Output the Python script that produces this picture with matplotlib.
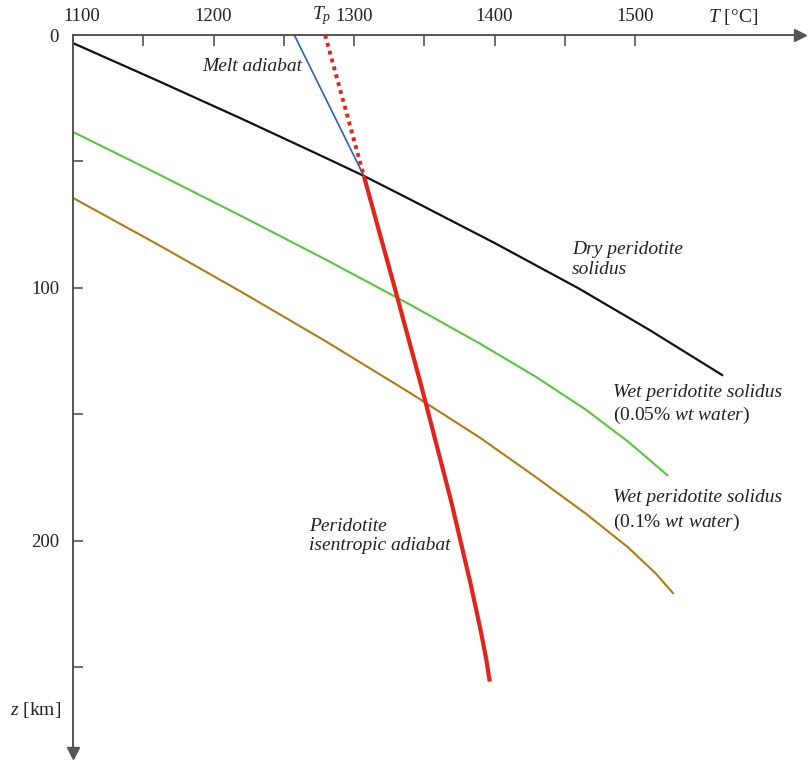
import matplotlib
matplotlib.use("Agg")
import matplotlib.pyplot as plt
from matplotlib.transforms import ScaledTranslation

plt.rcParams.update({
    "font.family":       ["Liberation Serif", "DejaVu Serif"],
    "font.size":         14,
    "mathtext.fontset":  "custom",
    "mathtext.rm":       "Liberation Serif",
    "mathtext.it":       "Liberation Serif:italic",
    "text.color":        "#222222",
})

# ── data (T in °C, z in km) ──────────────────────────────────────────────────
dry_T = [1100, 1160, 1220, 1280, 1307, 1340, 1400, 1460, 1510, 1562]
dry_z = [3.2, 18.0, 33.1, 48.6, 55.7, 65.0, 82.2, 100.2, 116.5, 134.4]

wet005_T = [1100, 1160, 1220, 1280, 1340, 1390, 1430, 1465, 1495, 1523]
wet005_z = [38.3, 54.8, 71.6, 88.8, 106.6, 122.1, 135.3, 148.1, 160.7, 174.0]

wet01_T = [1100, 1160, 1220, 1280, 1340, 1390, 1430, 1465, 1495, 1515, 1527]
wet01_z = [64.4, 82.7, 101.6, 121.1, 141.5, 159.3, 175.0, 189.2, 202.5, 213.0, 220.6]

adiabat_T = [1307, 1329, 1348.5, 1369, 1383, 1390, 1394.2, 1396.6]
adiabat_z = [55.7, 100.0, 140.0, 184.0, 217.0, 235.0, 247.0, 255.6]

tp_T = [1279.4, 1307]
tp_z = [0, 55.7]

melt_T = [1257.5, 1307]
melt_z = [0, 55.7]

x_major = [1100, 1200, 1300, 1400, 1500]
x_minor = [1150, 1250, 1350, 1450]
y_major = [0, 100, 200]
y_minor = [50, 150, 250]

AXIS_C = "#555555"

fig = plt.figure(figsize=(8.08, 7.63), dpi=100, facecolor="white")
ax = fig.add_axes([73 / 808, 10 / 763, 727 / 808, 718 / 763])
ax.set_xlim(1100, 1617.4)
ax.set_ylim(283.8, 0)

for s in ("right", "bottom"):
    ax.spines[s].set_visible(False)
for s in ("top", "left"):
    ax.spines[s].set_color(AXIS_C)
    ax.spines[s].set_linewidth(1.4)

ax.xaxis.set_ticks_position("top")
ax.set_xticks(x_major)
ax.set_xticklabels([str(v) for v in x_major])
ax.set_xticks(x_minor, minor=True)
ax.set_yticks(y_major)
ax.set_yticklabels([str(v) for v in y_major])
ax.set_yticks(y_minor, minor=True)
ax.tick_params(which="both", direction="in", color=AXIS_C, width=1.2,
               labelsize=13.5, labelcolor="#222222")
ax.tick_params(axis="x", which="both", length=8, pad=7)
ax.tick_params(axis="y", which="both", length=7, pad=10)

# first temperature label sits a little to the right of its tick
lbl = ax.xaxis.get_major_ticks()[0].label2
lbl.set_transform(lbl.get_transform() + ScaledTranslation(0.09, 0, fig.dpi_scale_trans))

# axis arrow heads
ax.plot([1], [1], marker=">", ms=8, color=AXIS_C, transform=ax.transAxes, clip_on=False)
ax.plot([0], [0], marker="v", ms=8, color=AXIS_C, transform=ax.transAxes, clip_on=False)

# ── curves ────────────────────────────────────────────────────────────────────
ax.plot(dry_T, dry_z, color="#111111", lw=1.6, solid_joinstyle="round")
ax.plot(wet005_T, wet005_z, color="#55c63c", lw=1.5, solid_joinstyle="round")
ax.plot(wet01_T, wet01_z, color="#b27a12", lw=1.5, solid_joinstyle="round")
ax.plot(melt_T, melt_z, color="#2b5fc4", lw=1.2)
ax.plot(tp_T, tp_z, color="#e4231d", lw=2.8, linestyle=(0, (1, 1.1)))
ax.plot(adiabat_T, adiabat_z, color="#e4231d", lw=3.0, solid_capstyle="butt",
        solid_joinstyle="round")

# ── labels ────────────────────────────────────────────────────────────────────
ax.text(1263, 12.6, "Melt adiabat", style="italic", ha="right", va="center")
ax.text(1455, 88.7, "Dry peridotite\nsolidus", style="italic",
        ha="left", va="center", linespacing=1.2)

ax.text(1484, 141.5, "Wet peridotite solidus", style="italic",
        ha="left", va="center")
ax.text(1484, 150.3, r"(0.05% $\it{wt\ water}$)", ha="left", va="center")
ax.text(1484, 183.0, "Wet peridotite solidus", style="italic",
        ha="left", va="center")
ax.text(1484, 192.8, r"(0.1% $\it{wt\ water}$)", ha="left", va="center")

ax.text(1268, 198, "Peridotite\nisentropic adiabat", style="italic",
        ha="left", va="center", linespacing=1.2)

ax.text(1270, -7.5, r"$T_p$", ha="left", va="center", clip_on=False)
ax.text(1552, -7.3, r"$T$ [°C]", ha="left", va="center", clip_on=False)
ax.text(1091.5, 266.8, r"$z$ [km]", ha="right", va="center", clip_on=False)

fig.savefig("out.png", dpi=100, facecolor="white")
